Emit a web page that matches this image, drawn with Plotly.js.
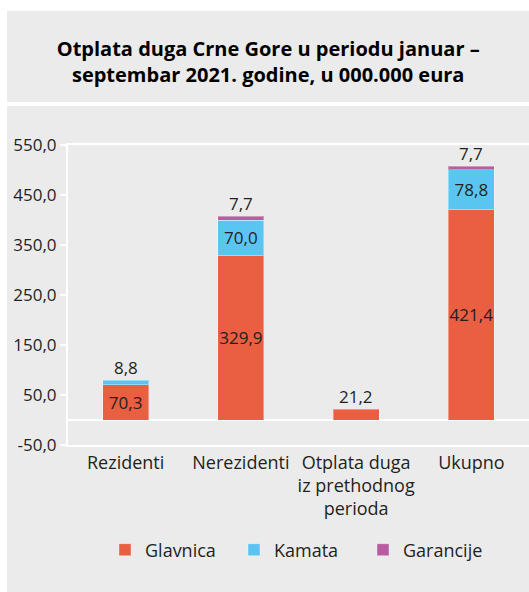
<!DOCTYPE html>
<html>
<head>
<meta charset="utf-8">
<script src="https://cdn.plot.ly/plotly-3.0.1.min.js"></script>
<style>html,body{margin:0;padding:0;background:#fff;}#chart{width:529px;height:592px;}</style>
</head>
<body>
<div id="chart"></div>
<script>
// ---- data ----
const categories = ["Rezidenti", "Nerezidenti", "Otplata duga<br>iz prethodnog<br>perioda", "Ukupno"];
const glavnica  = [70.3, 329.9, 21.2, 421.4];
const kamata    = [8.8, 70.0, null, 78.8];
const garancije = [null, 7.7, null, 7.7];
const seriesNames = ["Glavnica", "Kamata", "Garancije"];
const tickValues = [-50, 50, 150, 250, 350, 450, 550];
const tickLabels = ["-50,0", "50,0", "150,0", "250,0", "350,0", "450,0", "550,0"];

const colors = ["#EA5E41", "#5BC5F1", "#B85DA0"];
const FONT = "Open Sans, sans-serif";
const TXT = "#231f20";
const fmt = v => v.toFixed(1).replace('.', ',');
const SMALL = 30;

const series = [glavnica, kamata, garancije];
const traces = series.map((vals, i) => ({
  type: 'bar',
  name: seriesNames[i],
  x: categories,
  y: vals,
  marker: {color: colors[i], line: {color: 'rgba(255,255,255,0.35)', width: 1}},
  text: vals.map(v => (v != null && v >= SMALL) ? fmt(v) : ''),
  textposition: 'inside',
  insidetextanchor: 'middle',
  textangle: 0,
  constraintext: 'none',
  textfont: {family: FONT, size: 17, color: TXT},
  hoverinfo: 'skip'
}));

// labels for small segments placed above the stack
const annotations = [];
categories.forEach((c, j) => {
  let cum = 0;
  series.forEach(vals => {
    const v = vals[j];
    if (v != null) {
      cum += v;
      if (v < SMALL) {
        annotations.push({x: c, y: cum, xref: 'x', yref: 'y', text: fmt(v), showarrow: false,
          yanchor: 'bottom', yshift: -1, font: {family: FONT, size: 17, color: TXT}});
      }
    }
  });
});

const shapes = [
  {type: 'rect', xref: 'paper', yref: 'paper', x0: -0.2, x1: 1.1, y0: 1.13, y1: 1.1433, fillcolor: '#ffffff', line: {width: 0}, layer: 'below'},
  {type: 'rect', xref: 'paper', yref: 'paper', x0: -0.2, x1: 1.1, y0: 1.4467, y1: 1.6, fillcolor: '#ffffff', line: {width: 0}, layer: 'below'},
  {type: 'rect', xref: 'paper', yref: 'paper', x0: -0.2, x1: -0.1323, y0: -0.6, y1: 1.6, fillcolor: '#ffffff', line: {width: 0}, layer: 'below'}
];

const layout = {
  width: 529, height: 592,
  margin: {l: 68, r: 0, t: 145, b: 147, pad: 0},
  paper_bgcolor: '#EBEBEB',
  plot_bgcolor: '#EBEBEB',
  barmode: 'stack',
  bargap: 0.6,
  separators: ',.',
  font: {family: FONT, size: 17, color: TXT},
  title: {
    text: "<b>Otplata duga Crne Gore u periodu januar –<br>septembar 2021. godine, u 000.000 eura</b>",
    font: {family: FONT, size: 20, color: '#000'},
    x: 0.507, xref: 'container', xanchor: 'center',
    y: 0.905, yref: 'container', yanchor: 'middle'
  },
  xaxis: {
    type: 'category',
    showline: true, linecolor: '#ffffff', linewidth: 2,
    mirror: true,
    ticks: '', showgrid: false, zeroline: false,
    tickfont: {family: FONT, size: 18, color: TXT},
    fixedrange: true
  },
  yaxis: {
    range: [-50, 550],
    tickvals: tickValues, ticktext: tickLabels,
    showline: true, linecolor: '#ffffff', linewidth: 2,
    ticks: 'outside', tickcolor: '#ffffff', ticklen: 6, tickwidth: 2,
    showgrid: false,
    zeroline: true, zerolinecolor: '#ffffff', zerolinewidth: 2,
    tickfont: {family: FONT, size: 17, color: TXT},
    fixedrange: true
  },
  legend: {
    orientation: 'h', x: 0.5, xanchor: 'center', y: -0.35, yanchor: 'middle',
    traceorder: 'normal',
    font: {family: FONT, size: 18, color: TXT},
    entrywidth: 84, bgcolor: 'rgba(0,0,0,0)'
  },
  showlegend: true,
  annotations: annotations,
  shapes: shapes
};

Plotly.newPlot('chart', traces, layout, {displayModeBar: false, staticPlot: true});
</script>
</body>
</html>
